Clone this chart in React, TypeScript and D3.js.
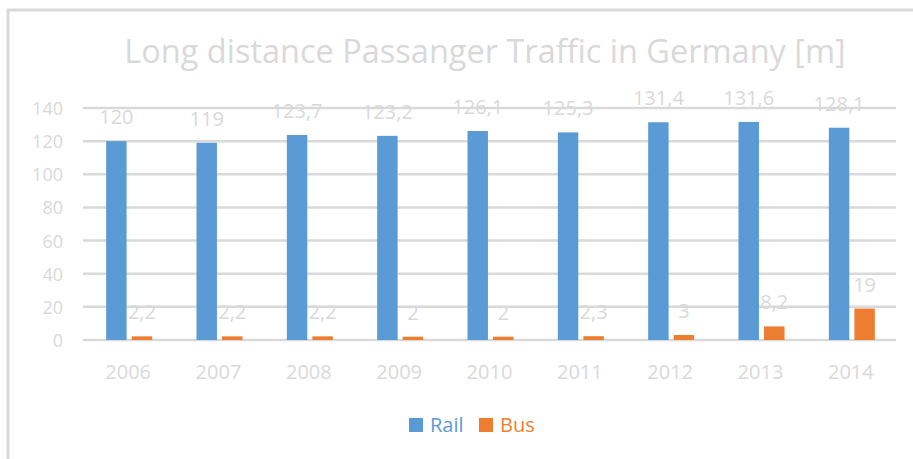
import React from 'react'
import * as d3 from 'd3'

const years = ['2006', '2007', '2008', '2009', '2010', '2011', '2012', '2013', '2014']
const rail = [120, 119, 123.7, 123.2, 126.1, 125.3, 131.4, 131.6, 128.1]
const bus = [2.2, 2.2, 2.2, 2, 2, 2.3, 3, 8.2, 19]
const yTicks = [0, 20, 40, 60, 80, 100, 120, 140]
const seriesNames = ['Rail', 'Bus']
const colors = ['#5b9bd5', '#ed7d31']

const W = 913
const H = 459
const FONT = '"Open Sans", "Noto Sans", sans-serif'
const GRAY = '#d9d9d9'

// decimal comma like the original
const fmt = (v: number) => String(v).replace('.', ',')

function App() {
  const margin = { top: 108, right: 17, bottom: 119, left: 83 }

  const x = d3
    .scaleBand()
    .domain(years)
    .range([margin.left, W - margin.right])
    .padding(0)

  const bw = x.bandwidth()
  const x1 = d3
    .scaleBand()
    .domain(seriesNames)
    .range([bw / 2 - 22, bw / 2 + 24])
    .paddingInner(0.2)

  const y = d3
    .scaleLinear()
    .domain([0, 140])
    .range([H - margin.bottom, margin.top])

  const series = [rail, bus]

  return (
    <svg
      width={W}
      height={H}
      style={{ position: 'absolute', left: 0, top: 0, background: '#fff' }}
    >
      {/* chart frame */}
      <rect x={8} y={10} width={1000} height={1000} fill="none" stroke={GRAY} strokeWidth={3} />

      <text x={485} y={63} textAnchor="middle" fontFamily={FONT} fontSize={32.5} fill={GRAY}>
        Long distance Passanger Traffic in Germany [m]
      </text>

      {/* gridlines + y labels */}
      {yTicks.map((t) => (
        <g key={t}>
          <line
            x1={margin.left}
            x2={W - margin.right}
            y1={y(t)}
            y2={y(t)}
            stroke={GRAY}
            strokeWidth={2.5}
          />
          <text
            x={63}
            y={y(t) + 7}
            textAnchor="end"
            fontFamily={FONT}
            fontSize={18}
            fill={GRAY}
          >
            {t}
          </text>
        </g>
      ))}

      {/* bars */}
      {years.map((yr, i) => (
        <g key={yr} transform={`translate(${x(yr)},0)`}>
          {series.map((s, j) => {
            const bx = x1(seriesNames[j]) as number
            return (
              <g key={j}>
                <rect
                  x={bx}
                  y={y(s[i])}
                  width={x1.bandwidth()}
                  height={y(0) - y(s[i])}
                  fill={colors[j]}
                />
                <text
                  x={bx + x1.bandwidth() / 2}
                  y={y(s[i]) - 17}
                  textAnchor="middle"
                  fontFamily={FONT}
                  fontSize={20}
                  fill={GRAY}
                >
                  {fmt(s[i])}
                </text>
              </g>
            )
          })}
          <text
            x={bw / 2}
            y={379}
            textAnchor="middle"
            fontFamily={FONT}
            fontSize={20}
            fill={GRAY}
          >
            {yr}
          </text>
        </g>
      ))}

      {/* legend */}
      {seriesNames.map((n, j) => (
        <g key={n} transform={`translate(${409 + j * 70},418)`}>
          <rect width={14} height={14} fill={colors[j]} />
          <text x={21} y={14} fontFamily={FONT} fontSize={20} fill={colors[j]}>
            {n}
          </text>
        </g>
      ))}
    </svg>
  )
}

export default App
